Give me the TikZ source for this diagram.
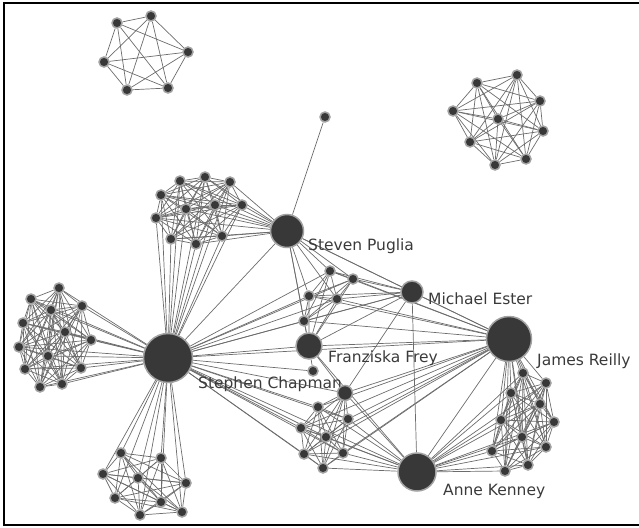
\documentclass[tikz,border=0pt]{standalone}
\usepackage{fontspec}
\setmainfont{DejaVu Sans}
\usetikzlibrary{backgrounds}
\definecolor{dotfill}{HTML}{383838}
\definecolor{dotring}{HTML}{A2A2A2}
\definecolor{edgegray}{HTML}{6C6C6C}
\definecolor{labelgray}{HTML}{3A3A3A}
% complete graph on the nodes #1 1 ... #1 #2
\newcommand{\clique}[2]{%
  \pgfmathtruncatemacro\cqlast{#2-1}%
  \foreach \i in {1,...,\cqlast}{%
    \pgfmathtruncatemacro\cqnext{\i+1}%
    \foreach \j in {\cqnext,...,#2} \draw[edge] (#1\i) -- (#1\j);}}
\begin{document}
\begin{tikzpicture}[x=1pt, y=-1pt,
  dot/.style={circle, fill=dotfill, draw=dotring, line width=1.5pt, minimum size=#1, inner sep=0pt},
  dot/.default=10pt,
  edge/.style={draw=edgegray, line width=0.7pt},
  person/.style={font=\fontsize{15.5}{17}\selectfont, text=labelgray, anchor=base west, inner sep=0pt}]
  \useasboundingbox (0,0) rectangle (639,527);
  \draw[line width=1.4pt] (639,3) -- (4,3) -- (4,525) -- (639,525);
  % hubs
  \node[dot=49pt] (chapman) at (168,358) {};
  \node[dot=33pt] (puglia) at (287,231) {};
  \node[dot=26pt] (frey) at (309,346) {};
  \node[dot=22pt] (ester) at (412,292) {};
  \node[dot=45pt] (reilly) at (509,339) {};
  \node[dot=38pt] (kenney) at (417,472) {};
  \node[person] at (308,250) {Steven Puglia};
  \node[person] at (428,304) {Michael Ester};
  \node[person] at (328,362) {Franziska Frey};
  \node[person] at (198,388) {Stephen Chapman};
  \node[person] at (537,365) {James Reilly};
  \node[person] at (443,495) {Anne Kenney};
  % loose nodes
  \node[dot] (lone) at (325,117) {};
  \node[dot] (below) at (313,371) {};
  \node[dot=15pt] (c0) at (345,393) {};
  % clusters
  \foreach \p [count=\k] in {(117,23),(151,16),(188,52),(168,88),(127,90),(104,62)}
    \node[dot] (a\k) at \p {};
  \foreach \p [count=\k] in {(477,83),(517,75),(540,101),(543,131),(526,159),(495,165),(470,142),(453,111),(498,119)}
    \node[dot] (b\k) at \p {};
  \foreach \p [count=\k] in {(180,181),(205,177),(230,182),(242,205),(222,236),(196,244),(171,239),(156,218),(161,195),(186,209),(215,205)}
    \node[dot] (t\k) at \p {};
  \foreach \p [count=\k] in {(59,288),(31,299),(82,306),(51,310),(23,323),(65,332),(91,340),(19,347),(48,356),(25,369),(81,368),(40,387),(62,384)}
    \node[dot] (l\k) at \p {};
  \foreach \p [count=\k] in {(121,453),(161,458),(103,474),(138,478),(186,483),(115,498),(161,502),(140,515),(182,512)}
    \node[dot] (d\k) at \p {};
  \foreach \p [count=\k] in {(330,271),(353,279),(309,296),(337,299),(304,321)}
    \node[dot] (m\k) at \p {};
  \foreach \p [count=\k] in {(318,407),(348,419),(301,428),(326,437),(304,454),(343,453),(323,468)}
    \node[dot] (c\k) at \p {};
  \foreach \p [count=\k] in {(523,373),(546,383),(511,393),(540,404),(501,420),(554,422),(522,437),(546,447),(492,451),(528,465),(505,471)}
    \node[dot] (r\k) at \p {};
  \begin{scope}[on background layer]
    \clique{a}{6}
    \clique{b}{9}
    \clique{t}{11}
    \clique{l}{13}
    \clique{d}{9}
    \clique{m}{5}
    \clique{c}{7}
    \clique{r}{11}
    \foreach \k in {1,...,7} \draw[edge] (c0) -- (c\k);
    \foreach \k in {1,...,11} \draw[edge] (t\k) -- (chapman) (t\k) -- (puglia);
    \foreach \k in {1,...,13} \draw[edge] (l\k) -- (chapman);
    \foreach \k in {1,...,9} \draw[edge] (d\k) -- (chapman);
    \foreach \k in {1,...,5} \draw[edge] (m\k) -- (chapman) (m\k) -- (puglia) (m\k) -- (ester) (m\k) -- (reilly) (m\k) -- (frey);
    \foreach \k in {0,...,7} \draw[edge] (c\k) -- (chapman) (c\k) -- (kenney) (c\k) -- (reilly);
    \foreach \k in {1,...,11} \draw[edge] (r\k) -- (reilly) (r\k) -- (kenney);
    \draw[edge] (lone) -- (puglia);
    \draw[edge] (below) -- (chapman) (below) -- (frey);
    \foreach \h in {puglia,frey,ester,reilly,kenney} \draw[edge] (chapman) -- (\h);
    \foreach \h in {frey,ester,reilly} \draw[edge] (puglia) -- (\h);
    \foreach \h in {frey,reilly,kenney} \draw[edge] (ester) -- (\h);
    \draw[edge] (frey) -- (reilly) (frey) -- (kenney) (reilly) -- (kenney);
    \draw[edge] (c0) -- (ester) (c0) -- (frey);
  \end{scope}
\end{tikzpicture}
\end{document}
